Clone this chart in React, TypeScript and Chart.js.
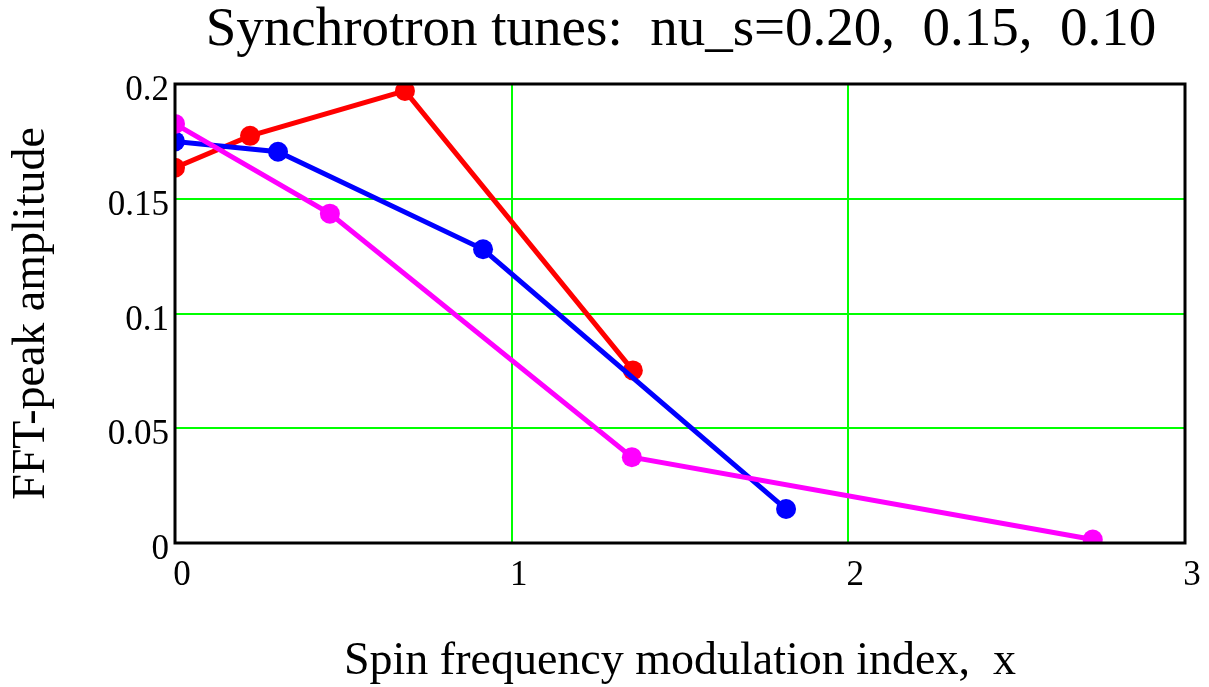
import React, { useEffect, useRef } from "react";
import { Chart, registerables } from "chart.js";

Chart.register(...registerables);

const TITLE = "Synchrotron tunes:  nu_s=0.20,  0.15,  0.10";
const X_TITLE = "Spin frequency modulation index,  x";
const Y_TITLE = "FFT-peak amplitude";

const redX = [0, 0.223, 0.683, 1.36];
const redY = [0.1635, 0.1774, 0.197, 0.0752];
const blueX = [0, 0.306, 0.915, 1.815];
const blueY = [0.175, 0.1705, 0.128, 0.0148];
const magentaX = [0, 0.46, 1.357, 2.726];
const magentaY = [0.1826, 0.1435, 0.0374, 0.0015];

const xTicks = [0, 1, 2, 3];
const yTicks = [0, 0.05, 0.1, 0.15, 0.2];
const yTickLabels = ["0", "0.05", "0.1", "0.15", "0.2"];

const pts = (xs: number[], ys: number[]) => xs.map((x, i) => ({ x, y: ys[i] }));

const FONT = "'Liberation Serif', 'Times New Roman', serif";

const frame = {
  id: "frame",
  afterDatasetsDraw(chart: any) {
    const { ctx, chartArea } = chart;
    ctx.save();
    ctx.strokeStyle = "#000";
    ctx.lineWidth = 3;
    ctx.strokeRect(chartArea.left, chartArea.top, chartArea.right - chartArea.left, chartArea.bottom - chartArea.top);
    ctx.restore();
  },
};

export default function App() {
  const ref = useRef<HTMLCanvasElement | null>(null);
  useEffect(() => {
    if (!ref.current) return;
    const mk = (label: string, xs: number[], ys: number[], color: string, order: number) => ({
      label,
      data: pts(xs, ys),
      borderColor: color,
      backgroundColor: color,
      pointBackgroundColor: color,
      pointBorderColor: color,
      borderWidth: 5,
      pointRadius: 10,
      pointBorderWidth: 0,
      showLine: true,
      tension: 0,
      clip: 0,
      order,
    });
    const chart = new Chart(ref.current, {
      type: "scatter",
      data: {
        datasets: [
          mk("nu_s=0.20", redX, redY, "#ff0000", 3),
          mk("nu_s=0.15", blueX, blueY, "#0000ff", 2),
          mk("nu_s=0.10", magentaX, magentaY, "#ff00ff", 1),
        ],
      },
      options: {
        animation: false,
        responsive: false,
        layout: { padding: { top: 84, right: 24, left: 0, bottom: 0 } },
        plugins: {
          legend: { display: false },
          tooltip: { enabled: false },
          title: { display: false },
        },
        scales: {
          x: {
            type: "linear",
            min: 0,
            max: 3,
            afterFit: (s: any) => { s.height = 144; },
            afterBuildTicks: (s: any) => { s.ticks = xTicks.map((v) => ({ value: v })); },
            ticks: {
              font: { family: FONT, size: 35 },
              color: "#000",
              padding: 12,
              labelOffset: 7,
              maxRotation: 0,
              callback: (v: any) => String(v),
            },
            grid: {
              drawTicks: false,
              lineWidth: 2,
              color: (c: any) => (c.tick && (c.tick.value === 0 || c.tick.value === 3) ? "rgba(0,0,0,0)" : "#00ff00"),
            },
            border: { display: false },
            title: {
              display: true,
              text: X_TITLE,
              color: "#000",
              font: { family: FONT, size: 46, lineHeight: 1.1 },
              padding: { top: 0, bottom: 0 },
            },
          },
          y: {
            type: "linear",
            min: 0,
            max: 0.2,
            afterFit: (s: any) => { s.width = 175; },
            afterBuildTicks: (s: any) => { s.ticks = yTicks.map((v) => ({ value: v })); },
            ticks: {
              font: { family: FONT, size: 35 },
              color: "#000",
              padding: 6,
              labelOffset: 7,
              callback: (v: any) => {
                const i = yTicks.findIndex((t) => Math.abs(t - v) < 1e-9);
                return i >= 0 ? yTickLabels[i] : "";
              },
            },
            grid: {
              drawTicks: false,
              lineWidth: 2,
              color: (c: any) => (c.tick && (Math.abs(c.tick.value) < 1e-9 || Math.abs(c.tick.value - 0.2) < 1e-9) ? "rgba(0,0,0,0)" : "#00ff00"),
            },
            border: { display: false },
            title: {
              display: true,
              text: Y_TITLE,
              color: "#000",
              font: { family: FONT, size: 46, lineHeight: 1.1 },
              padding: { top: 7, bottom: 0 },
            },
          },
        },
      },
      plugins: [
        frame,
        {
          id: "maintitle",
          afterDraw(chart: any) {
            const { ctx } = chart;
            ctx.save();
            ctx.fillStyle = "#000";
            ctx.font = `55px ${FONT}`;
            ctx.textAlign = "center";
            ctx.textBaseline = "middle";
            ctx.fillText(TITLE, 681, 31);
            ctx.restore();
          },
        },
      ],
    });
    return () => chart.destroy();
  }, []);
  return (
    <div style={{ position: "fixed", left: 0, top: 0, width: 1209, height: 687, background: "#fff" }}>
      <canvas ref={ref} width={1209} height={687} style={{ width: 1209, height: 687 }} />
    </div>
  );
}
